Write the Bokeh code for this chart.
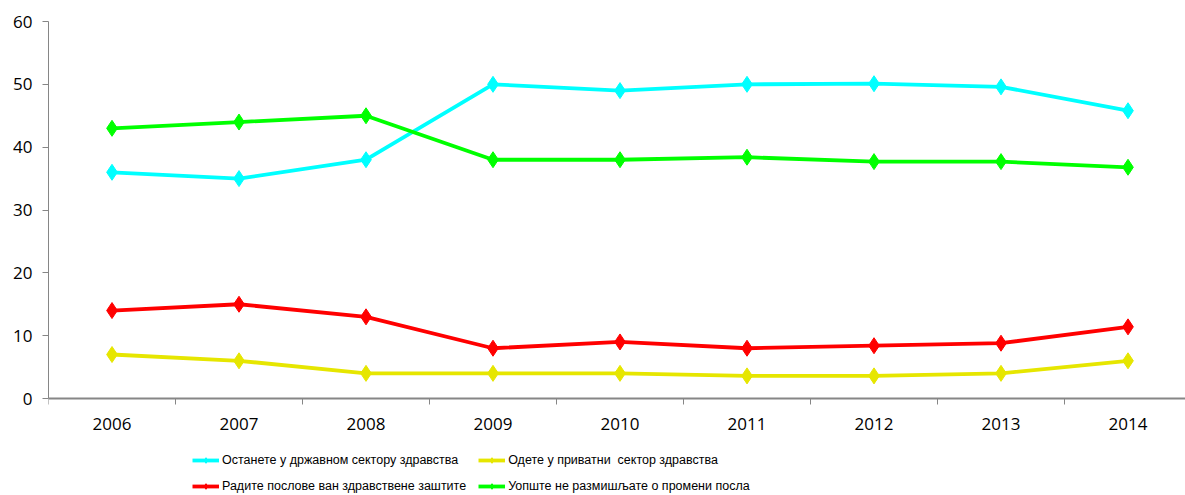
from bokeh.plotting import figure
from bokeh.models import FixedTicker, Legend, LegendItem, Range1d
from bokeh.embed import file_html
from bokeh.resources import INLINE

years = [2006, 2007, 2008, 2009, 2010, 2011, 2012, 2013, 2014]
year_labels = [str(y) for y in years]
state_sector = [36, 35, 38, 50, 49, 50, 50.1, 49.6, 45.8]
private_sector = [7, 6, 4, 4, 4, 3.6, 3.6, 4, 6]
outside_health = [14, 15, 13, 8, 9, 8, 8.4, 8.8, 11.4]
no_change = [43, 44, 45, 38, 38, 38.4, 37.7, 37.7, 36.8]
series_names = [
    "Останете у државном сектору здравства",
    "Одете у приватни  сектор здравства",
    "Радите послове ван здравствене заштите",
    "Уопште не размишљате о промени посла",
]
colors = ["#00FFFF", "#E6E600", "#FF0000", "#00FF00"]
y_ticks = [0, 10, 20, 30, 40, 50, 60]

# frame: y value 60 at 21px, 0 at 398px, bottom of frame at 495px
px_per_unit = 377 / 60.0
y_bottom = -(97 / px_per_unit)
x_right = 2005.5 + 1137 / 127.0

p = figure(width=1185, height=495, output_backend="svg", toolbar_location=None,
           x_range=Range1d(2005.5, x_right), y_range=Range1d(y_bottom, 60),
           min_border_left=48, min_border_right=0, min_border_top=21, min_border_bottom=0)
p.outline_line_color = None
p.xgrid.visible = False
p.ygrid.visible = False

series = [state_sector, private_sector, outside_health, no_change]
items = []
for vals, col, name in zip(series, colors, series_names):
    l = p.line(years, vals, line_color=col, line_width=3.8)
    m = p.scatter(years, vals, marker="diamond", size=16, fill_color=col, line_color=col)
    items.append(LegendItem(label=name, renderers=[l, m]))

# legend fills column by column: order so rows read (state, private), (outside, no change)
items = [items[0], items[2], items[1], items[3]]

xa = p.xaxis[0]
xa.fixed_location = 0
xa.ticker = FixedTicker(ticks=years, minor_ticks=[y - 0.5 for y in years] + [years[-1] + 0.5])
xa.major_label_overrides = {y: s for y, s in zip(years, year_labels)}
xa.major_tick_out = 0
xa.major_tick_in = 0
xa.minor_tick_out = 6
xa.minor_tick_in = 0
xa.minor_tick_line_color = "#868686"
xa.axis_line_color = "#868686"
xa.axis_line_width = 2
xa.major_label_text_font = "Open Sans"
xa.major_label_text_font_size = "17px"
xa.major_label_text_color = "#000000"
xa.major_label_standoff = 13

ya = p.yaxis[0]
ya.bounds = (0, 60)
ya.ticker = FixedTicker(ticks=y_ticks)
ya.major_tick_out = 6
ya.major_tick_in = 0
ya.minor_tick_out = 0
ya.minor_tick_in = 0
ya.major_tick_line_color = "#868686"
ya.axis_line_color = "#868686"
ya.axis_line_width = 1
ya.major_label_text_font = "Open Sans"
ya.major_label_text_font_size = "17px"
ya.major_label_text_color = "#000000"
ya.major_label_standoff = 10

legend = Legend(items=items, ncols=2, location=(144, 2))
legend.label_text_font = "Liberation Sans"
legend.label_text_font_size = "12.5px"
legend.label_text_color = "#000000"
legend.glyph_width = 27
legend.glyph_height = 14
legend.label_standoff = 3
legend.label_width = 231
legend.spacing = 12
legend.border_line_color = None
legend.padding = 0
legend.margin = 0
legend.background_fill_alpha = 0
p.add_layout(legend, "center")

open("out.html", "w").write(file_html(p, INLINE))
